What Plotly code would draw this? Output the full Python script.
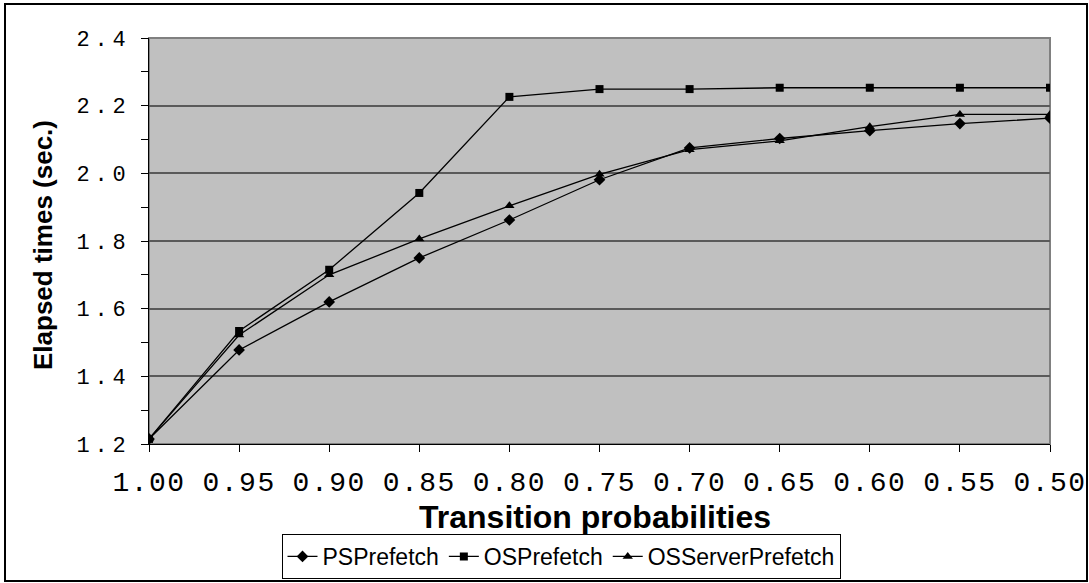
import plotly.graph_objects as go

categories = ["1.00", "0.95", "0.90", "0.85", "0.80", "0.75", "0.70", "0.65", "0.60", "0.55", "0.50"]
ps_prefetch = [1.215, 1.478, 1.620, 1.750, 1.862, 1.981, 2.075, 2.103, 2.126, 2.147, 2.163]
os_prefetch = [1.215, 1.534, 1.715, 1.942, 2.226, 2.249, 2.249, 2.253, 2.253, 2.253, 2.253]
oss_prefetch = [1.215, 1.522, 1.700, 1.806, 1.904, 1.997, 2.070, 2.096, 2.138, 2.174, 2.174]
y_ticks = [1.2, 1.4, 1.6, 1.8, 2.0, 2.2, 2.4]

W, H = 1089, 583
L, R, T, B = 149, 39, 38, 139
PW, PH = W - L - R, H - T - B

def px_x(p):
    return (p - L) / PW

def px_y(p):
    return (H - B - p) / PH

fig = go.Figure()
series = [
    ("PSPrefetch", ps_prefetch, "diamond", 9),
    ("OSPrefetch", os_prefetch, "square", 8),
    ("OSServerPrefetch", oss_prefetch, "triangle-up", 9),
]
for name, vals, sym, sz in series:
    fig.add_trace(go.Scatter(
        x=categories, y=vals, name=name, mode="lines+markers",
        line=dict(color="black", width=1.3),
        marker=dict(symbol=sym, size=sz, color="black"),
    ))

fig.update_layout(
    width=W, height=H,
    margin=dict(l=L, r=R, t=T, b=B, pad=0, autoexpand=False),
    paper_bgcolor="white",
    plot_bgcolor="#C0C0C0",
    showlegend=True,
    legend=dict(
        orientation="h", x=px_x(561), xanchor="center", y=px_y(534), yanchor="top",
        bgcolor="white", bordercolor="black", borderwidth=1,
        font=dict(family="Liberation Sans, Arial", size=23, color="black"),
        itemwidth=30, tracegroupgap=0,
    ),
    xaxis=dict(
        type="category", categoryorder="array", categoryarray=categories,
        range=[0, len(categories) - 1], automargin=False,
        showgrid=False, zeroline=False,
        showline=True, linecolor="black", linewidth=1,
        ticks="outside", ticklen=7, tickcolor="black", tickwidth=1,
        tickfont=dict(family="Liberation Mono, Courier New", size=28, color="black"),
        ticklabelstandoff=5,
    ),
    yaxis=dict(
        range=[1.2, 2.4], tickvals=y_ticks, tickformat=".1f", automargin=False,
        showgrid=True, gridcolor="#5a5a5a", gridwidth=1.5, zeroline=False,
        showline=True, linecolor="black", linewidth=1,
        ticks="outside", ticklen=7, tickcolor="black", tickwidth=1,
        minor=dict(dtick=0.1, tick0=1.2, ticks="outside", ticklen=7, tickcolor="black", showgrid=False),
        tickfont=dict(family="Liberation Mono, Courier New", size=22, color="black"),
        ticklabelstandoff=6,
    ),
    annotations=[
        dict(text="<b>Transition probabilities</b>", xref="paper", yref="paper",
             x=px_x(595), y=px_y(517), xanchor="center", yanchor="middle", showarrow=False,
             font=dict(family="Liberation Sans, Arial", size=32, color="black")),
        dict(text="<b>Elapsed times (sec.)</b>", xref="paper", yref="paper",
             x=px_x(43), y=px_y(245), xanchor="center", yanchor="middle", showarrow=False,
             textangle=-90,
             font=dict(family="Liberation Sans, Arial", size=26, color="black")),
    ],
    shapes=[
        dict(type="rect", xref="paper", yref="paper", x0=0, x1=1, y0=0, y1=1,
             line=dict(color="#808080", width=2), layer="below"),
        dict(type="rect", xref="paper", yref="paper",
             x0=px_x(5), x1=px_x(1087), y0=px_y(581), y1=px_y(4),
             line=dict(color="black", width=2), layer="below"),
    ],
)

post = ("var s=document.createElement('style');"
        "s.textContent='.ytick text{letter-spacing:4.8px}.xtick text{letter-spacing:1.5px}';"
        "document.head.appendChild(s);")
fig.write_html("out.html", post_script=post)
